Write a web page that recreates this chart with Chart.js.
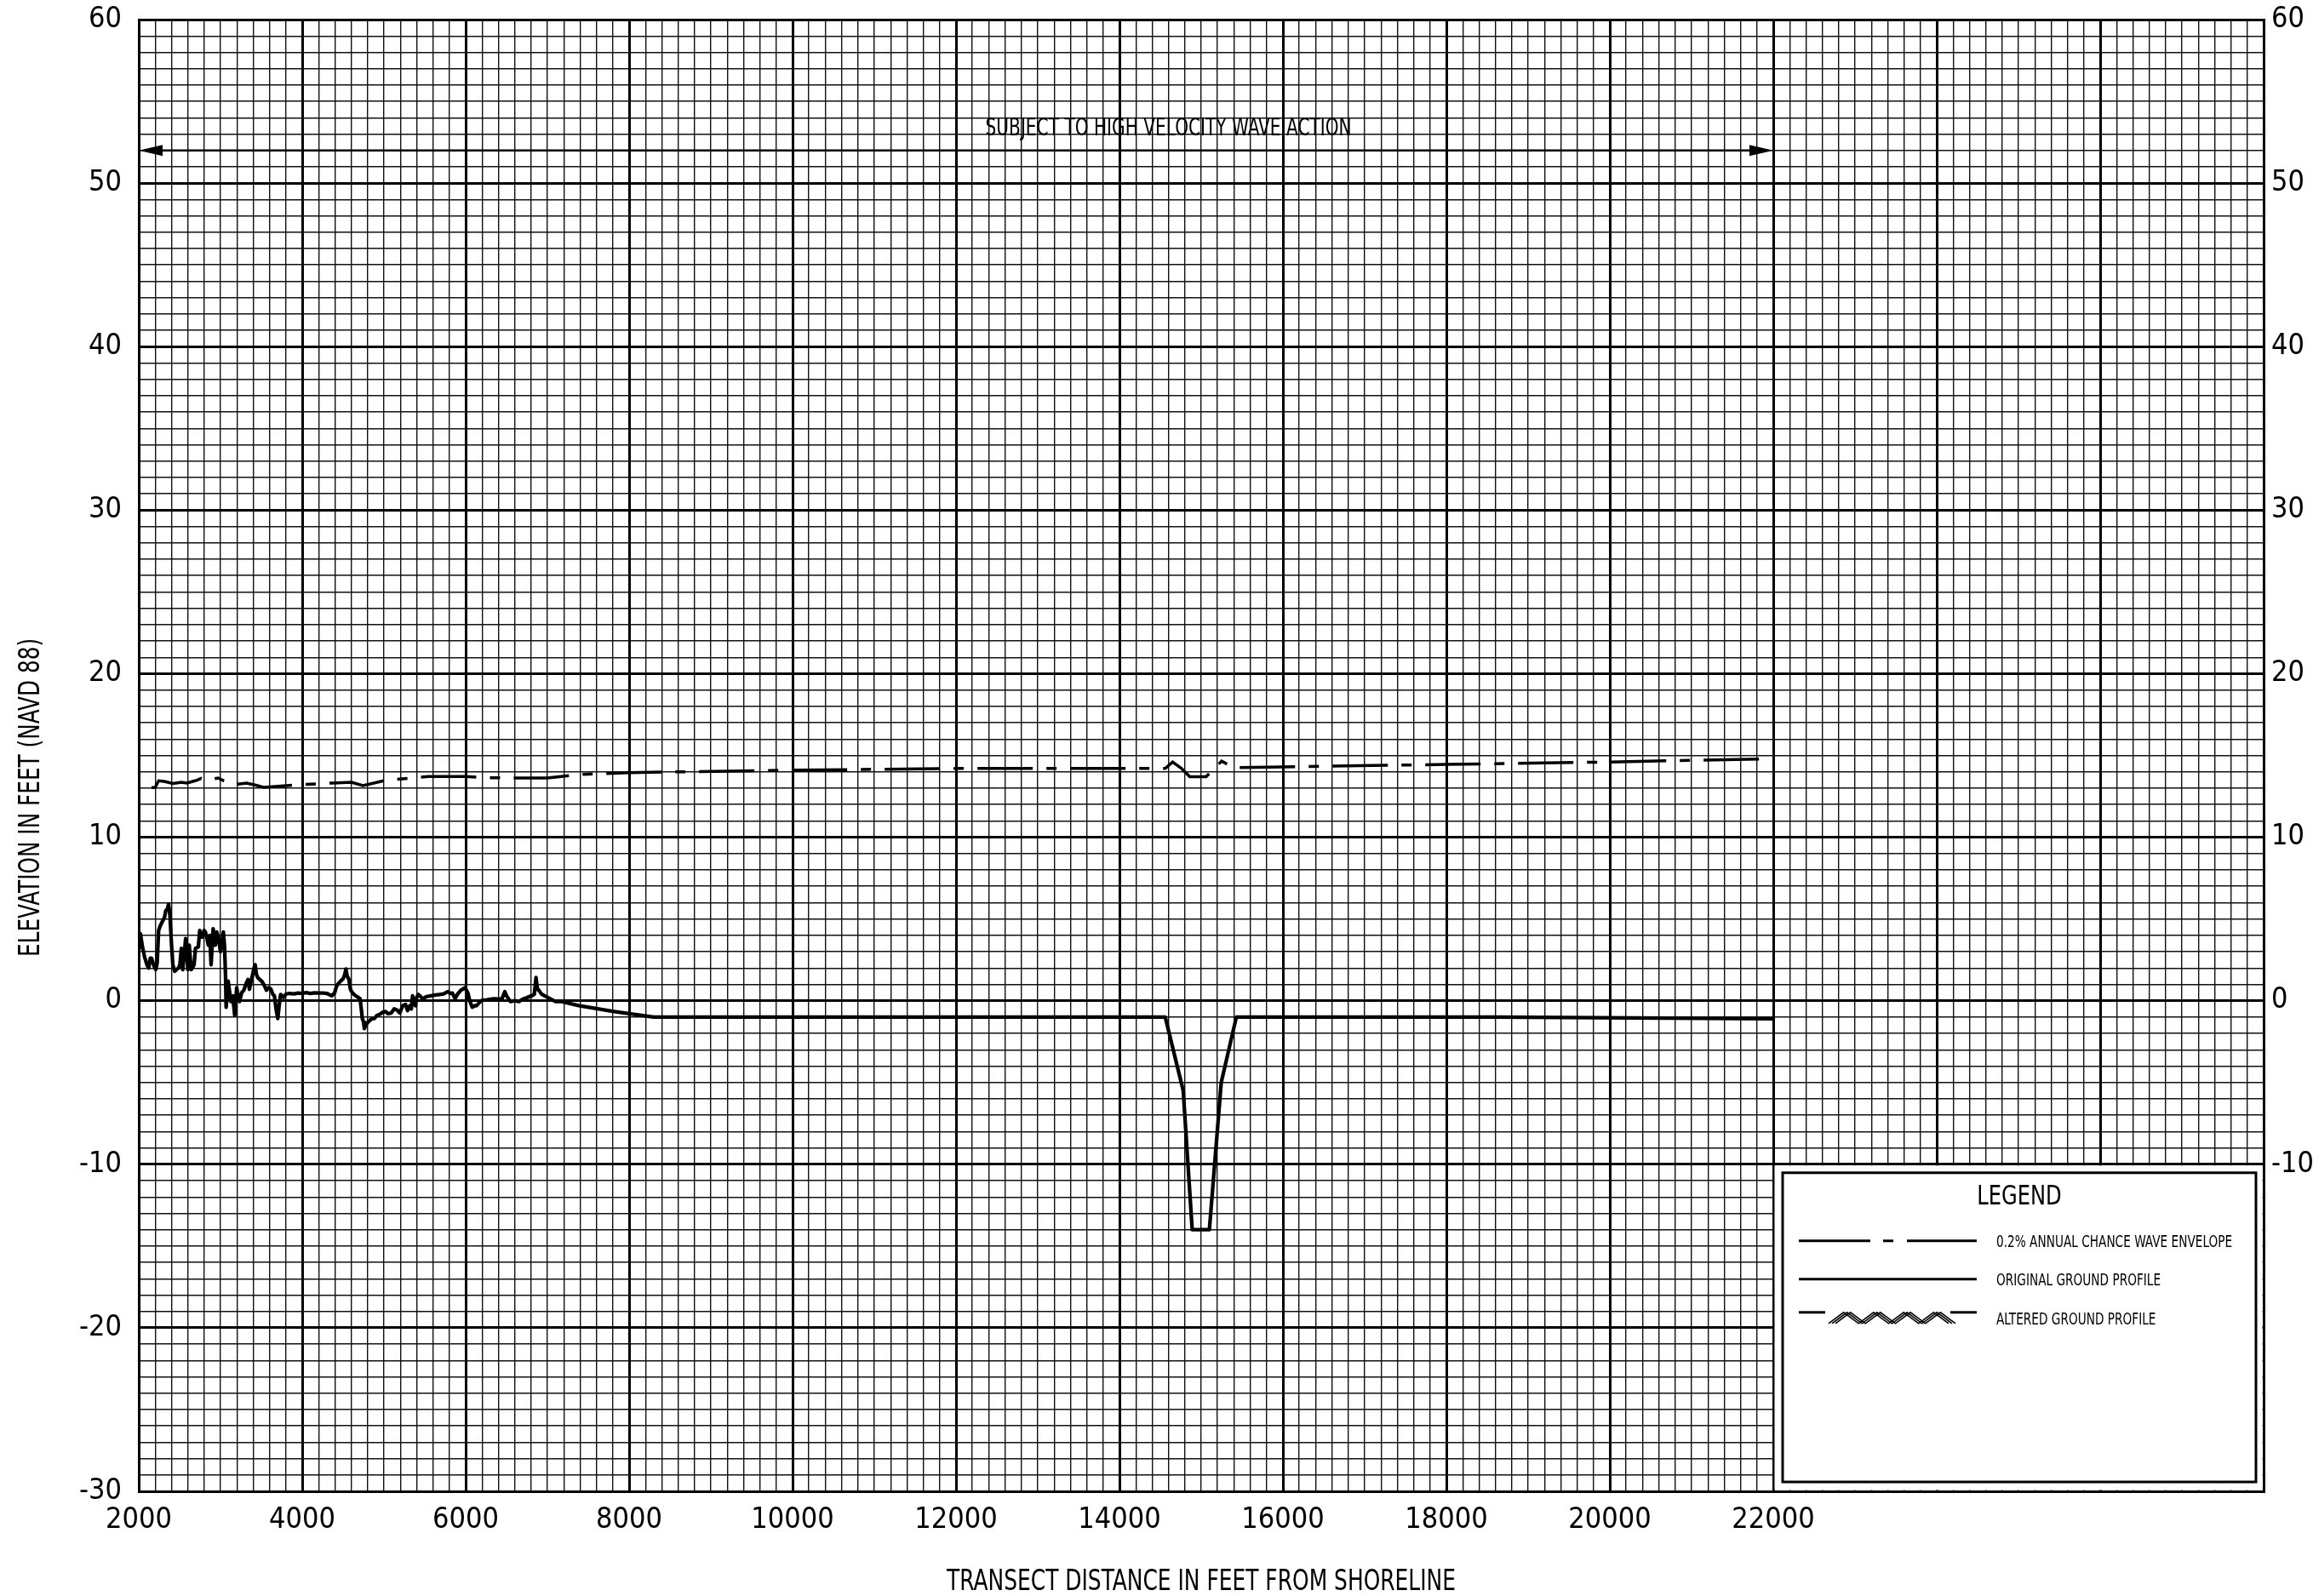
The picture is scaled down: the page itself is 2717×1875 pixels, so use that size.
<!DOCTYPE html>
<html><head><meta charset="utf-8">
<script src="https://cdn.jsdelivr.net/npm/chart.js@4/dist/chart.umd.min.js"></script>
<style>html,body{margin:0;padding:0;background:#fff}canvas{display:block}</style>
</head><body>
<canvas id="c" width="2717" height="1875"></canvas>
<script>
// ---------------- DATA ----------------
const groundX = [2000,2020,2045,2070,2100,2122,2140,2156,2180,2208,2225,2243,2265,2295,2315,2330,2350,2365,2382,2400,2417,2440,2460,2486,2503,2521,2538,2560,2573,2590,2601,2618,2630,2642,2665,2677,2694,2729,2746,2765,2781,2800,2816,2835,2851,2868,2885,2910,2937,2955,2972,3000,3035,3049,3062,3069,3094,3110,3128,3150,3174,3198,3215,3233,3260,3285,3310,3337,3354,3375,3389,3410,3424,3440,3458,3480,3510,3540,3562,3590,3615,3640,3660,3680,3701,3720,3736,3771,3800,3840,3900,3950,4000,4048,4100,4150,4200,4257,4300,4361,4396,4420,4448,4470,4500,4520,4535,4550,4569,4590,4604,4630,4656,4685,4708,4725,4736,4750,4760,4790,4812,4850,4882,4915,4951,4985,5021,5050,5090,5125,5160,5194,5230,5264,5290,5316,5335,5350,5370,5385,5400,5420,5450,5472,5520,5576,5630,5680,5730,5784,5810,5837,5871,5900,5941,5993,6028,6050,6080,6110,6132,6170,6201,6260,6340,6400,6444,6479,6500,6548,6600,6653,6700,6757,6809,6840,6861,6878,6896,6930,6965,7035,7100,7173,7382,7800,8300,14560,14780,14890,15100,15245,15430,18600,22000];
const groundY = [3.1,4.1,3.3,2.7,2.2,2.0,2.6,2.6,2.2,1.9,2.3,4.3,4.6,4.9,5.1,5.5,5.6,5.9,5.2,3.5,2.2,1.8,1.9,2.0,2.2,3.2,1.9,3.0,3.8,2.8,1.9,3.4,2.6,1.9,2.1,2.2,3.2,3.3,4.3,3.9,3.9,4.3,4.2,3.8,3.4,4.0,2.2,4.4,3.4,4.2,3.9,3.0,4.2,3.4,1.5,-0.4,1.2,0.6,-0.05,0.3,-0.9,0.8,0.3,-0.05,0.5,0.64,1.0,1.3,0.7,1.2,1.5,2.0,2.2,1.6,1.4,1.3,1.16,0.9,0.64,0.8,0.73,0.4,0.3,-0.5,-1.09,-0.2,0.38,0.2,0.4,0.45,0.42,0.47,0.45,0.5,0.45,0.48,0.47,0.47,0.45,0.3,0.47,0.9,1.08,1.2,1.34,1.6,1.94,1.5,1.34,0.7,0.56,0.4,0.3,0.2,0.12,-0.6,-1.1,-1.3,-1.7,-1.4,-1.27,-1.1,-1.09,-0.9,-0.83,-0.7,-0.66,-0.8,-0.75,-0.5,-0.57,-0.75,-0.3,-0.23,-0.6,-0.31,-0.5,0.3,-0.1,-0.31,0.2,0.38,0.25,0.12,0.25,0.3,0.35,0.38,0.42,0.56,0.45,0.47,0.12,0.4,0.64,0.8,0.47,0.0,-0.4,-0.3,-0.31,-0.1,0.03,0.05,0.12,0.1,0.12,0.55,0.3,-0.05,0.0,-0.05,0.1,0.21,0.3,0.4,1.42,0.7,0.64,0.4,0.3,0.12,-0.05,-0.05,-0.3,-0.65,-1.0,-1.0,-5.5,-14.0,-14.0,-5.0,-1.0,-1.0,-1.1];

const envelopeX = [2000,2201,2243,2312,2417,2521,2590,2660,2712,2764,2816,2972,3042,3198,3319,3424,3528,3892,4361,4604,4743,5021,5541,5993,6271,6739,6999,7382,8000,10000,12000,14000,14560,14650,14760,14860,15060,15250,15400,16000,18000,20000,22000];
const envelopeY = [13.0,13.05,13.45,13.41,13.28,13.36,13.31,13.41,13.48,13.6,13.48,13.62,13.45,13.24,13.31,13.19,13.05,13.19,13.31,13.36,13.16,13.48,13.71,13.71,13.64,13.62,13.62,13.83,13.95,14.1,14.2,14.2,14.2,14.6,14.2,13.7,13.7,14.65,14.25,14.3,14.45,14.6,14.8];

const xTickLabels = [2000,4000,6000,8000,10000,12000,14000,16000,18000,20000,22000];
const yLeftTickLabels = [-30,-20,-10,0,10,20,30,40,50,60];
const yRightTickLabels = [-10,0,10,20,30,40,50,60];

const X_MIN = 2000, X_MAX = 28000, Y_MIN = -30, Y_MAX = 60;
const X_MINOR = 200, X_MAJOR = 2000, Y_MINOR = 1, Y_MAJOR = 10;

const xTitle = 'TRANSECT DISTANCE IN FEET FROM SHORELINE';
const yTitle = 'ELEVATION IN FEET (NAVD 88)';
const annotationText = 'SUBJECT TO HIGH VELOCITY WAVE ACTION';
const annotationPos = {x: 14600, y: 53.3};
const arrowSpan = {from: 2000, to: 22000, y: 52};
const legendRegion = {x: 22000, y: -10};
const legendTitle = 'LEGEND';
const legendLabels = ['0.2% ANNUAL CHANCE WAVE ENVELOPE', 'ORIGINAL GROUND PROFILE', 'ALTERED GROUND PROFILE'];

const FONT = "'Liberation Sans Narrow','DejaVu Sans Condensed','Arial Narrow',sans-serif";
const ENVELOPE_DASH = [65, 16, 12, 16];

// ---------------- HELPERS ----------------
function txt(ctx, s, x, y, size, align, sx, rot) {
  ctx.save();
  ctx.translate(x, y);
  if (rot) ctx.rotate(rot);
  ctx.scale(sx, 1);
  ctx.font = size + 'px ' + FONT;
  ctx.textAlign = align;
  ctx.textBaseline = 'middle';
  ctx.fillStyle = '#000';
  ctx.fillText(s, 0, 0);
  ctx.restore();
}

const decor = {
  id: 'decor',
  afterDraw(chart) {
    const ctx = chart.ctx;
    const xs = chart.scales.x, ys = chart.scales.y;
    const ca = chart.chartArea;

    // arrow
    const ay = ys.getPixelForValue(arrowSpan.y);
    const ax1 = xs.getPixelForValue(arrowSpan.from);
    const ax2 = xs.getPixelForValue(arrowSpan.to);
    ctx.save();
    ctx.strokeStyle = '#000'; ctx.fillStyle = '#000'; ctx.lineWidth = 2.5;
    ctx.beginPath(); ctx.moveTo(ax1 + 20, ay); ctx.lineTo(ax2 - 20, ay); ctx.stroke();
    ctx.beginPath(); ctx.moveTo(ax1, ay); ctx.lineTo(ax1 + 28, ay - 6.5); ctx.lineTo(ax1 + 28, ay + 6.5); ctx.closePath(); ctx.fill();
    ctx.beginPath(); ctx.moveTo(ax2, ay); ctx.lineTo(ax2 - 28, ay - 6.5); ctx.lineTo(ax2 - 28, ay + 6.5); ctx.closePath(); ctx.fill();
    ctx.restore();
    txt(ctx, annotationText, xs.getPixelForValue(annotationPos.x), ys.getPixelForValue(annotationPos.y), 28, 'center', 0.80);

    // axis titles
    txt(ctx, yTitle, 37, 937, 34, 'center', 0.81, -Math.PI / 2);
    txt(ctx, xTitle, (ca.left + ca.right) / 2, 1859, 34, 'center', 0.815);

    // legend region
    const lx = xs.getPixelForValue(legendRegion.x), ly = ys.getPixelForValue(legendRegion.y);
    ctx.save();
    ctx.fillStyle = '#fff';
    ctx.fillRect(lx + 1.5, ly + 1.5, ca.right - lx - 3, ca.bottom - ly - 3);
    const bx = lx + 10, by = ly + 9, bw = ca.right - 8 - bx, bh = ca.bottom - 10 - by;
    ctx.strokeStyle = '#000'; ctx.lineWidth = 3;
    ctx.strokeRect(bx + 1, by + 1, bw - 2, bh - 2);
    ctx.restore();

    txt(ctx, legendTitle, bx + bw / 2, by + 30, 32, 'center', 0.84);
    const sx1 = bx + 20, sx2 = bx + 229, tx = bx + 252;
    const y1 = by + 81, y2 = by + 126, y3 = by + 165;
    ctx.save();
    ctx.strokeStyle = '#000'; ctx.lineWidth = 3;
    // envelope sample
    ctx.beginPath(); ctx.moveTo(sx1, y1); ctx.lineTo(sx1 + 84, y1); ctx.stroke();
    ctx.beginPath(); ctx.moveTo(sx1 + 99, y1); ctx.lineTo(sx1 + 111, y1); ctx.stroke();
    ctx.beginPath(); ctx.moveTo(sx1 + 127, y1); ctx.lineTo(sx2, y1); ctx.stroke();
    // original
    ctx.beginPath(); ctx.moveTo(sx1, y2); ctx.lineTo(sx2, y2); ctx.stroke();
    // altered
    const za = sx1 + 35, zb = sx2 - 33;
    ctx.beginPath(); ctx.moveTo(sx1, y3); ctx.lineTo(za - 4, y3); ctx.stroke();
    ctx.beginPath(); ctx.moveTo(zb + 2, y3); ctx.lineTo(sx2, y3); ctx.stroke();
    ctx.lineWidth = 1.6;
    const per = (zb - za) / 4;
    for (let off = 0; off <= 8; off += 4) {
      ctx.beginPath();
      for (let k = 0; k <= 8; k++) {
        const px = za + off + k * per / 2;
        const py = (k % 2 === 0) ? y3 + 13 : y3;
        if (k === 0) ctx.moveTo(px, py); else ctx.lineTo(px, py);
      }
      ctx.stroke();
    }
    ctx.restore();
    txt(ctx, legendLabels[0], tx, y1 + 2, 19, 'left', 0.80);
    txt(ctx, legendLabels[1], tx, y2 + 2, 19, 'left', 0.80);
    txt(ctx, legendLabels[2], tx, y3 + 9, 19, 'left', 0.80);
  }
};

const tickFontX = {family: FONT, size: 34};
const tickFontY = {family: FONT, size: 34, lineHeight: 0.1};

new Chart(document.getElementById('c'), {
  type: 'scatter',
  data: {
    datasets: [
      {
        label: 'Original Ground Profile',
        data: groundX.map((x, i) => ({x: x, y: groundY[i]})),
        showLine: true, borderColor: '#000', borderWidth: 4.3, pointRadius: 0,
        tension: 0, borderJoinStyle: 'round', xAxisID: 'x', yAxisID: 'y'
      },
      {
        label: '0.2% Annual Chance Wave Envelope',
        data: envelopeX.map((x, i) => ({x: x, y: envelopeY[i]})),
        showLine: true, borderColor: '#000', borderWidth: 3.5, pointRadius: 0,
        tension: 0, borderDash: ENVELOPE_DASH, borderDashOffset: 94, xAxisID: 'x', yAxisID: 'y'
      }
    ]
  },
  options: {
    responsive: false, animation: false, devicePixelRatio: 1,
    layout: {padding: {top: 23, left: 0, right: 0, bottom: 0}},
    plugins: {legend: {display: false}, tooltip: {enabled: false}},
    scales: {
      x: {
        type: 'linear', position: 'bottom', min: X_MIN, max: X_MAX,
        afterFit: s => { s.height = 123; },
        ticks: {
          stepSize: X_MINOR, maxTicksLimit: 1000, autoSkip: false, maxRotation: 0, minRotation: 0,
          padding: 14, color: '#000', font: tickFontX,
          callback: v => xTickLabels.includes(v) ? String(v) : ''
        },
        grid: {
          drawTicks: false,
          color: c => (c.tick && c.tick.value % X_MAJOR === 0) ? '#000' : '#111',
          lineWidth: c => (c.tick && c.tick.value % X_MAJOR === 0) ? 3 : 1.4
        },
        border: {display: true, color: '#000', width: 3}
      },
      y: {
        type: 'linear', position: 'left', min: Y_MIN, max: Y_MAX,
        afterFit: s => { s.width = 163; },
        ticks: {
          stepSize: Y_MINOR, maxTicksLimit: 1000, autoSkip: false,
          padding: 20, color: '#000', font: tickFontY,
          callback: v => yLeftTickLabels.includes(v) ? String(v) : ''
        },
        grid: {
          drawTicks: false,
          color: c => (c.tick && c.tick.value % Y_MAJOR === 0) ? '#000' : '#111',
          lineWidth: c => (c.tick && c.tick.value % Y_MAJOR === 0) ? 3 : 1.4
        },
        border: {display: true, color: '#000', width: 3}
      },
      y2: {
        type: 'linear', position: 'right', min: Y_MIN, max: Y_MAX,
        afterFit: s => { s.width = 58; },
        ticks: {
          stepSize: Y_MINOR, maxTicksLimit: 1000, autoSkip: false,
          padding: 9, color: '#000', font: tickFontY,
          callback: v => yRightTickLabels.includes(v) ? String(v) : ''
        },
        grid: {display: false, drawTicks: false},
        border: {display: true, color: '#000', width: 3}
      }
    }
  },
  plugins: [decor]
});
</script>
</body></html>
